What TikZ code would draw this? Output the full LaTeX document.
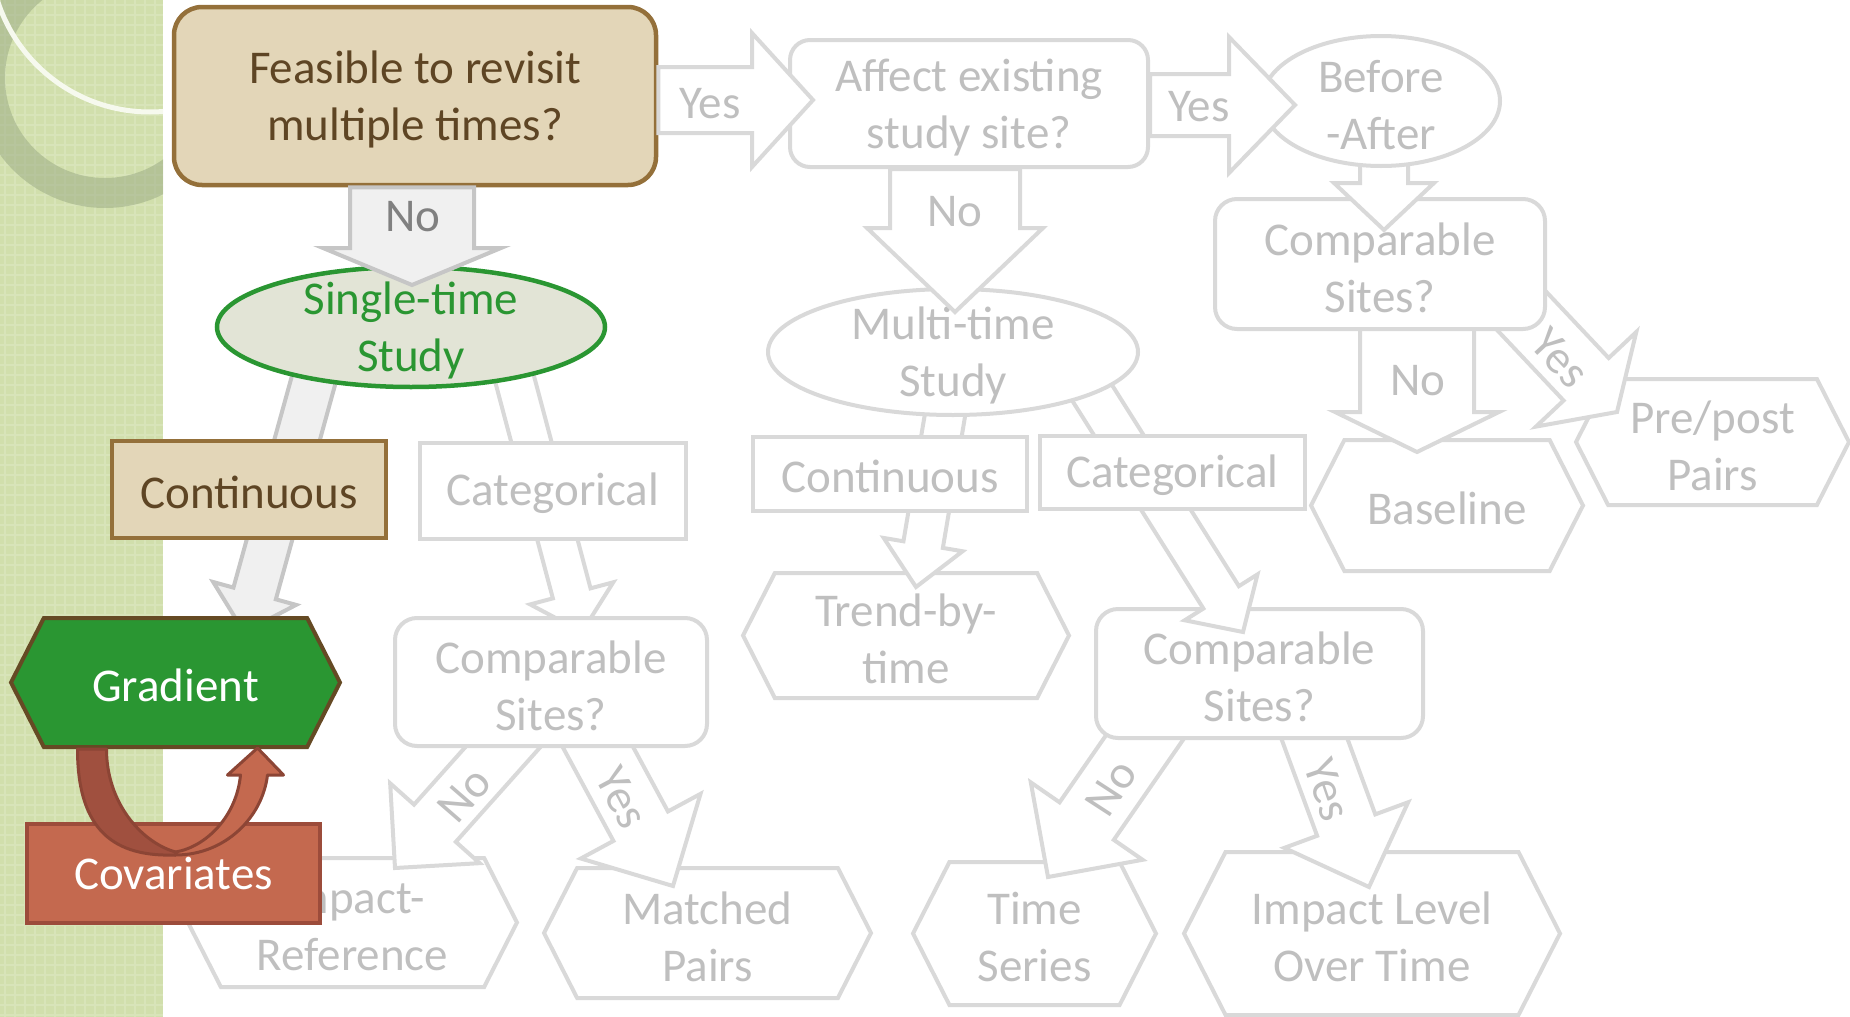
\documentclass[tikz,border=0pt]{standalone}
\usepackage{fontspec}
\setmainfont{Carlito}
\usetikzlibrary{shapes.geometric,shapes.symbols,calc}

\definecolor{grayline}{HTML}{D9D9D9}
\definecolor{graytext}{HTML}{BFBFBF}
\definecolor{tanfill}{HTML}{E3D6B8}
\definecolor{tanline}{HTML}{94703A}
\definecolor{tantext}{HTML}{5E4524}
\definecolor{gradfill}{HTML}{2A9632}
\definecolor{gradline}{HTML}{654A24}
\definecolor{singlefill}{HTML}{E2E4D6}
\definecolor{singleline}{HTML}{2A9632}
\definecolor{covfill}{HTML}{C4694F}
\definecolor{covline}{HTML}{9C4C3B}
\definecolor{curvdark}{HTML}{A0503F}
\definecolor{curvline}{HTML}{8C4535}
\definecolor{nofill}{HTML}{F0F0F0}
\definecolor{noline}{HTML}{C6C6C6}
\definecolor{notext}{HTML}{808080}
\definecolor{bandgreen}{HTML}{D1DFAC}
\definecolor{bandtex}{HTML}{D8E4B9}
\definecolor{ringgreen}{HTML}{98A882}

\pgfdeclarelayer{bandlayer}
\pgfdeclarelayer{leafs}
\pgfdeclarelayer{arrowsA}
\pgfdeclarelayer{nodesB}
\pgfdeclarelayer{arrowsB}
\pgfsetlayers{bandlayer,leafs,arrowsA,nodesB,arrowsB,main}

\tikzset{
  every node/.style={font=\fontsize{47}{57}\selectfont, align=center, inner sep=0pt},
  low1/.style={execute at begin node={\rule{0pt}{38pt}}},
  low2/.style={execute at begin node={\rule{0pt}{97pt}}},
  graybox/.style={draw=grayline, line width=4pt, fill=white, rounded corners=22pt, text=graytext},
  grayrect/.style={draw=grayline, line width=4pt, fill=white, text=graytext},
  grayell/.style={ellipse, draw=grayline, line width=4pt, fill=white},
  hexa/.style={signal, signal to=east and west, signal pointer angle=126,
    draw=grayline, line width=4pt, fill=white, text=graytext},
  tanbox/.style={draw=tanline, line width=4.5pt, fill=tanfill, rounded corners=28pt, text=tantext},
  tanrect/.style={draw=tanline, line width=4pt, fill=tanfill, text=tantext},
  greenhex/.style={hexa, draw=gradline, fill=gradfill, text=white},
  redrect/.style={draw=covline, line width=4pt, fill=covfill, text=white},
  elltext/.style={text=graytext, low2},
  blockarr/.style={draw=grayline, line width=4pt, fill=white, line join=miter},
  noarr/.style={draw=noline, fill=nofill},
  arrlbl/.style={text=graytext},
  curv/.style={draw=curvline, line width=3pt, line join=round}
}

% block arrow: [style]{from}{to}{shaft half width}{head half width}{head length}
\newcommand\blockarrow[6][]{%
  \coordinate (hb) at ($(#3)!#6!(#2)$);
  \filldraw[blockarr,#1] ($(#2)!#4!90:(#3)$) -- ($(hb)!#4!-90:(#2)$) -- ($(hb)!#5!-90:(#2)$)
    -- (#3) -- ($(hb)!#5!90:(#2)$) -- ($(hb)!#4!90:(#2)$) -- ($(#2)!#4!-90:(#3)$) -- cycle;
}

\begin{document}
\begin{tikzpicture}[x=1pt,y=-1pt]
\useasboundingbox (0,0) rectangle (1850,1017);

% left band
\begin{pgfonlayer}{bandlayer}
\fill[bandgreen] (0,0) rectangle (163,1017);
\foreach \x in {5,15,...,160}
  \draw[bandtex, line width=2pt] (\x,0) -- (\x,1017);
\foreach \y in {5,15,...,1015}
  \draw[bandtex, line width=2pt] (0,\y) -- (163,\y);
\begin{scope}
  \clip (0,0) rectangle (163,1017);
  \fill[ringgreen, opacity=.5, even odd rule] (105,78) circle[radius=130] (105,78) circle[radius=100];
  \draw[white!80!bandgreen, line width=5pt] (150,-48) circle[radius=160];
\end{scope}
\end{pgfonlayer}

% end nodes
\begin{pgfonlayer}{leafs}
\node[hexa, low1, minimum width=272pt, minimum height=131pt] (base) at (1447,505.5) {Baseline};
\node[hexa, low2, minimum width=273pt, minimum height=126pt] (pp) at (1712.5,442) {Pre/post\\Pairs};
\node[hexa, low2, minimum width=329pt, minimum height=129pt] (ir) at (352.5,922.5) {Impact-\\Reference};
\node[hexa, low2, minimum width=327pt, minimum height=130pt] (mp) at (707.5,933) {Matched\\Pairs};
\node[hexa, low2, minimum width=243pt, minimum height=143pt] (ts) at (1034.5,933.5) {Time\\Series};
\node[hexa, low2, minimum width=376pt, minimum height=163pt] (il) at (1372,933.5) {Impact Level\\Over Time};
\node[hexa, low2, minimum width=326pt, minimum height=125pt] (tr) at (906,635.5) {Trend-by-\\time};
\end{pgfonlayer}

\begin{pgfonlayer}{nodesB}
\node[graybox, low2, minimum width=312pt, minimum height=128pt] (cl) at (551,682) {Comparable\\Sites?};
\node[graybox, low2, minimum width=327pt, minimum height=129pt] (cm) at (1259.5,673.5) {Comparable\\Sites?};
\node[graybox, low2, minimum width=330pt, minimum height=130pt] (cs3) at (1380,264) {Comparable\\Sites?};
\end{pgfonlayer}

% upper nodes
\node[grayell, minimum width=238pt, minimum height=130pt,
  label={[elltext]center:Before\\-After}] (ba) at (1381,101) {};
\node[grayell, minimum width=370pt, minimum height=126pt,
  label={[elltext]center:Multi-time\\Study}] (multi) at (953,352) {};
\node[ellipse, draw=singleline, line width=4.5pt, fill=singlefill, minimum width=388pt, minimum height=120pt,
  label={[text=singleline, low2]center:Single-time\\Study}] (single) at (411,327) {};
\node[grayrect, low1, minimum width=274pt, minimum height=74pt] (contm) at (890,474) {Continuous};
\node[grayrect, low1, minimum width=265pt, minimum height=73pt] (catm) at (1172.5,472.5) {Categorical};
\node[grayrect, low1, minimum width=266pt, minimum height=96pt] (catl) at (553,491) {Categorical};
\node[tanrect, low1, minimum width=274pt, minimum height=97pt] (contl) at (249,489.5) {Continuous};
\node[graybox, low2, rounded corners=20pt, minimum width=358pt, minimum height=127pt] (aff) at (969,103.5) {Affect existing\\study site?};
\node[tanbox, low2, minimum width=482pt, minimum height=178pt] (feas) at (415,96) {Feasible to revisit\\multiple times?};
\node[greenhex, low1, minimum width=329pt, minimum height=129pt] (grad) at (175.5,682.5) {Gradient};

% arrow tips
\coordinate (tAB) at (813,100);
\coordinate (tBC) at (1295,105);
\coordinate (tAS) at (412,285);
\coordinate (tBM) at (955,312);
\coordinate (tCD) at (1384,230);
\coordinate (tDB) at (1417,452);
\coordinate (tDP) at (1617,412);
\coordinate (tSG) at (244,632);
\coordinate (tSC) at (582,632);
\coordinate (tMT) at (916,587);
\coordinate (tMC) at (1243,632);
\coordinate (tCT) at (1048,877);
\coordinate (tCI) at (1369,887);
\coordinate (tLI) at (395,868);
\coordinate (tLM) at (673,886);

% arrows under the middle boxes
\begin{pgfonlayer}{arrowsA}
\coordinate (sDB) at (cs3.center -| tDB);
\blockarrow{sDB}{tDB}{57pt}{82pt}{40pt}
\node[arrlbl] (lDB) at (1418,381) {No};
\coordinate (sDP) at ($(cs3.south east)+(-79,-77)$);
\blockarrow{sDP}{tDP}{31pt}{69pt}{45pt}
\node[arrlbl, rotate=-47] (lDP) at (1560,358) {Yes};
\coordinate (sSG) at ($(single.-151)+(2,-8)$);
\blockarrow[noarr]{sSG}{tSG}{22pt}{43pt}{40pt}
\coordinate (sSC) at ($(single.-27)+(-2,-8)$);
\blockarrow{sSC}{tSC}{19.5pt}{43pt}{40pt}
\coordinate (sMT) at ($(multi.-97)+(1,-8)$);
\blockarrow{sMT}{tMT}{20pt}{40pt}{43pt}
\coordinate (sCT) at ($(cm.south)+(-98,-27)$);
\blockarrow{sCT}{tCT}{33pt}{68pt}{68pt}
\node[arrlbl, rotate=57] (lCT) at (1111,788) {No};
\coordinate (sCI) at ($(cm.south)+(48,-20)$);
\blockarrow{sCI}{tCI}{31pt}{66pt}{66pt}
\node[arrlbl, rotate=-71] (lCI) at (1328,790) {Yes};
\coordinate (sLI) at ($(cl.south)+(-24,-28)$);
\blockarrow{sLI}{tLI}{28pt}{60pt}{60pt}
\node[arrlbl, rotate=49] (lLI) at (464,795) {No};
\coordinate (sLM) at ($(cl.south)+(28,-36)$);
\blockarrow{sLM}{tLM}{31pt}{68pt}{68pt}
\node[arrlbl, rotate=-62] (lLM) at (622,798) {Yes};
\end{pgfonlayer}

\begin{pgfonlayer}{arrowsB}
\coordinate (sCD) at (ba.center -| tCD);
\blockarrow{sCD}{tCD}{24pt}{50pt}{47pt}
\coordinate (sMC) at ($(multi.-17)+(-5,-8)$);
\blockarrow{sMC}{tMC}{21pt}{43pt}{41pt}
\end{pgfonlayer}

% arrows from the top boxes
\coordinate (sAB) at (feas.east |- tAB);
\blockarrow{sAB}{tAB}{33pt}{67pt}{61pt}
\node[arrlbl] (lAB) at (710,104) {Yes};
\coordinate (sBC) at (aff.east |- tBC);
\blockarrow{sBC}{tBC}{31pt}{68pt}{66pt}
\node[arrlbl] (lBC) at (1199,107) {Yes};
\coordinate (sBM) at (aff.south -| tBM);
\blockarrow{sBM}{tBM}{65pt}{88pt}{84pt}
\node[arrlbl] (lBM) at (955,212) {No};
\coordinate (sAS) at (feas.south -| tAS);
\blockarrow[noarr]{sAS}{tAS}{62pt}{89pt}{37pt}
\node[text=notext] (lAS) at (413,217) {No};

% covariates and its loop
\node[redrect, minimum width=293pt, minimum height=99pt] (cov) at (173.5,873.5) {Covariates};
\begin{scope}[shift={(grad.south)}]
\filldraw[curv, fill=curvdark] (-98,0) .. controls (-98,83) and (-60,108) .. (0,106)
  -- (0,103) .. controls (-35,93) and (-69,53) .. (-69,0) -- cycle;
\filldraw[curv, fill=covfill] (0,106) .. controls (50,106) and (87,68) .. (92,26)
  -- (108,26) -- (82,-1) -- (52,26) -- (65,26) .. controls (61,68) and (30,98) .. (0,103) -- cycle;
\end{scope}
\end{tikzpicture}
\end{document}
